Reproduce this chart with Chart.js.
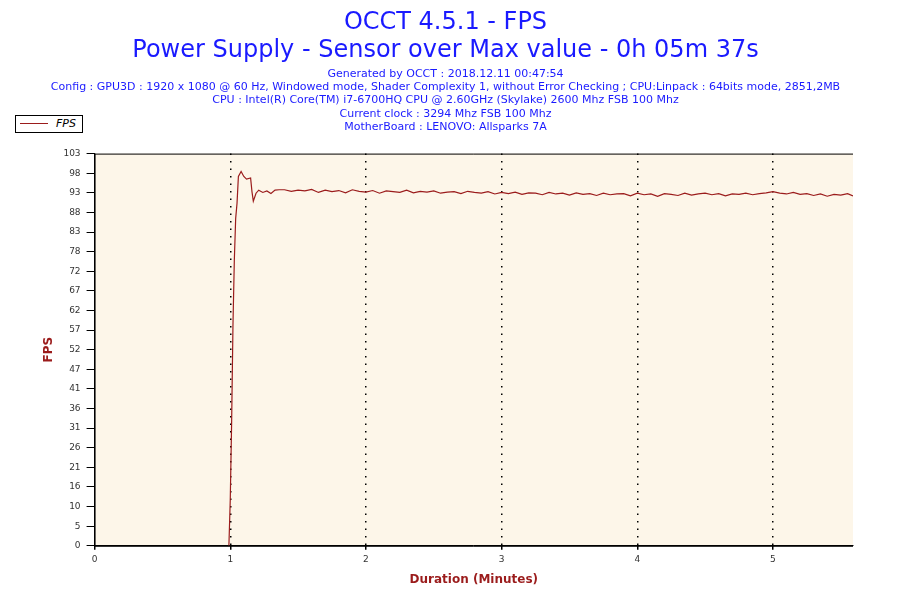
<!DOCTYPE html>
<html><head><meta charset="utf-8">
<script src="https://cdn.jsdelivr.net/npm/chart.js@4"></script>
<style>
body{margin:0;background:#fff;}
#wrap{position:relative;width:900px;height:600px;}
#legend{position:absolute;left:15px;top:115px;width:66px;height:16px;border:1px solid #000;background:#fff;font:italic 11px "DejaVu Sans";}
#legend span{position:absolute;left:4px;top:7px;width:28px;border-top:1px solid #9b1c1c;}
#legend i{position:absolute;left:40px;top:1px;}
</style></head>
<body><div id="wrap"><canvas id="c" width="900" height="600"></canvas>
<div id="legend"><span></span><i>FPS</i></div></div>
<script>
'use strict';

// ── Data ─────────────────────────────────────────────
const minutes = [0.99,1.0,1.01,1.02,1.03,1.04,1.05,1.06,1.08,1.10,1.12,1.15,1.16,1.17,1.19,1.21,1.24,1.27,1.30,1.33,1.36,1.40,1.45,1.50,1.55,1.60,1.65,1.70,1.75,1.80,1.85,1.90,1.95,2.00,2.05,2.10,2.15,2.20,2.25,2.30,2.35,2.40,2.45,2.50,2.55,2.60,2.65,2.70,2.75,2.80,2.85,2.90,2.95,3.00,3.05,3.10,3.15,3.20,3.25,3.30,3.35,3.40,3.45,3.50,3.55,3.60,3.65,3.70,3.75,3.80,3.85,3.90,3.95,4.00,4.05,4.10,4.15,4.20,4.25,4.30,4.35,4.40,4.45,4.50,4.55,4.60,4.65,4.70,4.75,4.80,4.85,4.90,4.95,5.00,5.05,5.10,5.15,5.20,5.25,5.30,5.35,5.40,5.45,5.50,5.55,5.59];
const fps = [0,12,32,58,75,86,90,97,98.3,97,96.3,96.6,93,90.5,92.6,93.4,92.8,93.2,92.5,93.4,93.5,93.5,93.1,93.4,93.2,93.6,92.8,93.4,93.0,93.3,92.7,93.5,93.1,92.9,93.3,92.6,93.2,93.0,92.8,93.4,92.7,93.1,92.9,93.2,92.6,92.9,93.0,92.5,93.1,92.8,92.6,93.0,92.4,92.8,92.5,92.9,92.3,92.7,92.6,92.2,92.8,92.4,92.6,92.1,92.7,92.3,92.5,92.0,92.6,92.2,92.4,92.5,91.9,92.6,92.2,92.4,91.8,92.5,92.3,92.0,92.6,92.1,92.4,92.6,92.2,92.5,91.9,92.4,92.3,92.6,92.2,92.5,92.7,93.0,92.6,92.4,92.8,92.3,92.5,92.0,92.4,91.8,92.3,92.1,92.5,91.9];
const yTickLabels = ['0','5','10','16','21','26','31','36','41','47','52','57','62','67','72','78','83','88','93','98','103'];
const yStep = 5.15;
const xTicks = [0,1,2,3,4,5];

const subLines = [
  'Generated by OCCT : 2018.12.11 00:47:54',
  'Config : GPU3D : 1920 x 1080 @ 60 Hz, Windowed mode, Shader Complexity 1, without Error Checking ; CPU:Linpack : 64bits mode, 2851,2MB',
  'CPU : Intel(R) Core(TM) i7-6700HQ CPU @ 2.60GHz (Skylake) 2600 Mhz FSB 100 Mhz',
  'Current clock : 3294 Mhz FSB 100 Mhz',
  'MotherBoard : LENOVO: Allsparks 7A'
];

// ── Plot background ──────────────────────────────────
const plotBg = {
  id: 'plotBg',
  beforeDraw(chart) {
    const a = chart.chartArea, ctx = chart.ctx;
    ctx.save();
    ctx.fillStyle = '#fdf6e9';
    ctx.fillRect(a.left, a.top, a.right - a.left, a.bottom - a.top);
    ctx.restore();
  },
  afterDraw(chart) {
    const a = chart.chartArea, ctx = chart.ctx;
    ctx.save();
    ctx.strokeStyle = '#000';
    ctx.lineWidth = 1;
    ctx.beginPath();
    ctx.moveTo(a.left, a.top + 0.5); ctx.lineTo(a.right, a.top + 0.5);
    ctx.moveTo(a.left + 0.5, a.top); ctx.lineTo(a.left + 0.5, a.bottom);
    ctx.moveTo(a.left, a.bottom + 0.5); ctx.lineTo(a.right, a.bottom + 0.5);
    ctx.stroke();
    ctx.restore();
  }
};

Chart.defaults.font.family = "'DejaVu Sans', sans-serif";
Chart.defaults.animation = false;

new Chart(document.getElementById('c'), {
  type: 'line',
  data: {
    datasets: [{
      label: 'FPS',
      data: minutes.map((m, i) => ({ x: m, y: fps[i] })),
      borderColor: '#9b1c1c', borderWidth: 1.2,
      pointRadius: 0, tension: 0
    }]
  },
  options: {
    responsive: false,
    layout: { padding: { left: 38, right: 47, top: 2, bottom: 9 } },
    plugins: {
      legend: { display: false },
      tooltip: { enabled: false },
      title: {
        display: true,
        text: ['OCCT 4.5.1 - FPS', 'Power Supply - Sensor over Max value - 0h 05m 37s'],
        color: '#1a1aff', font: { size: 24, weight: 'normal' },
        padding: { top: 6, bottom: 2 }
      },
      subtitle: {
        display: true, text: subLines,
        color: '#1a1aff', font: { size: 11 }, lineHeight: 1.24,
        padding: { top: 0, bottom: 20 }
      }
    },
    scales: {
      x: {
        type: 'linear', min: 0, max: 5.59,
        afterBuildTicks: ax => { ax.ticks = xTicks.map(v => ({ value: v })); },
        ticks: { color: '#333', font: { size: 9 }, padding: 4 },
        grid: {
          color: ctx => ctx.tick && ctx.tick.value === 0 ? 'rgba(0,0,0,0)' : '#000',
          lineWidth: 1.5, drawTicks: true, tickLength: 4, tickColor: '#000'
        },
        border: { color: '#000', dash: [1.5, 6] },
        title: { display: true, text: 'Duration (Minutes)', color: '#9b1c1c', font: { size: 12, weight: 'bold' }, padding: { top: 4 } }
      },
      y: {
        min: 0, max: 103,
        afterBuildTicks: ax => { ax.ticks = yTickLabels.map((t, i) => ({ value: i * yStep })); },
        ticks: { color: '#333', font: { size: 9 }, padding: 6, callback: (v, i) => yTickLabels[i] },
        grid: { display: true, drawOnChartArea: false, tickLength: 8, tickColor: '#000' },
        border: { color: '#000' },
        title: { display: true, text: 'FPS', color: '#9b1c1c', font: { size: 12, weight: 'bold' }, padding: { bottom: 1 } }
      }
    }
  },
  plugins: [plotBg]
});
</script></body></html>
